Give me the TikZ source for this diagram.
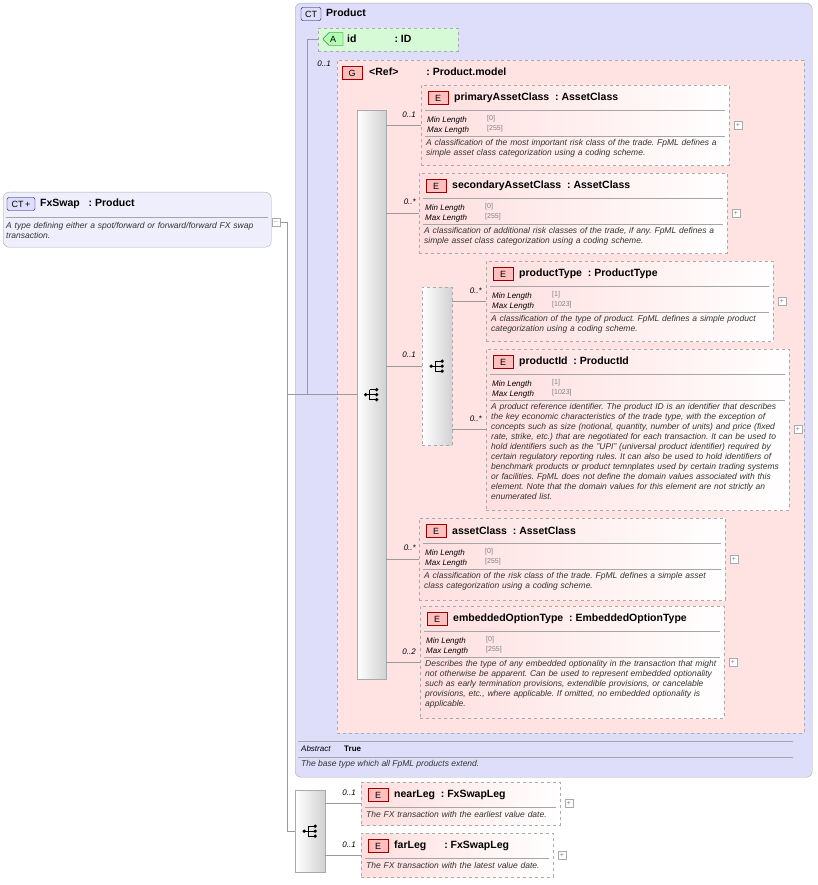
\documentclass[tikz,border=0pt]{standalone}
\usepackage{fontspec}
\setmainfont{Liberation Sans}
\usetikzlibrary{positioning, calc, shapes.misc}

\definecolor{ctfill}{RGB}{222,222,250}
\definecolor{grpfill}{RGB}{255,226,226}
\definecolor{elfill}{RGB}{255,222,222}
\definecolor{attfill}{RGB}{214,250,214}
\definecolor{edge}{RGB}{170,170,170}

\tikzset{
  ctbox/.style={draw=edge, rounded corners=6pt, fill=ctfill, anchor=north west, inner sep=0pt},
  elbox/.style={draw=edge, dashed, left color=elfill, right color=white, anchor=north west, inner sep=0pt},
  grpbox/.style={draw=edge, dashed, fill=grpfill, anchor=north west, inner sep=0pt},
  seqbox/.style={draw=edge, left color=white, right color=black!18, anchor=north west, inner sep=0pt},
  badge/.style={draw=red!60!black, fill=red!25, minimum width=20pt, minimum height=13pt, inner sep=0pt, font=\fontsize{9}{9}\selectfont},
  title/.style={anchor=west, inner sep=0pt, font=\fontsize{10.5}{11}\selectfont\bfseries},
  facet/.style={anchor=west, inner sep=0pt, font=\fontsize{8}{9}\selectfont\itshape},
  fval/.style={anchor=north west, inner sep=0pt, align=left, text=gray, font=\fontsize{7}{10.5}\selectfont},
  desc/.style={anchor=north west, inner sep=0pt, align=left, font=\fontsize{8.5}{10}\selectfont\itshape, text=black!80},
  card/.style={anchor=east, inner sep=0pt, font=\fontsize{8}{9}\selectfont\itshape},
  plusbox/.style={draw=edge, fill=white, minimum size=8pt, inner sep=0pt, font=\fontsize{7}{7}\selectfont, text=gray},
  conn/.style={draw=gray!80, line width=0.6pt}
}

% element box: name, x1, y1, x2, y2, title, facets (min,max or empty), description
\newcommand\xelem[8]{%
  \node[elbox, minimum width={#4-#2}, minimum height={#5-#3}] (#1) at (#2,#3) {};
  \node[badge] (#1-b) at (#2+17,#3+13) {E};
  \node[title] at (#2+33,#3+13) {#6};
  \node[plusbox] at (#4+9,#3/2+#5/2) {+};
  \draw[gray!70] (#2+4,#3+25) -- (#4-4,#3+25);
  \ifx\relax#7\relax
    \node[desc, text width={#4-#2-8}] at (#2+5,#3+29) {#8};
  \else
    \node[facet] at (#2+6,#3+35) {Min Length};
    \node[facet] at (#2+6,#3+45.5) {Max Length};
    \node[fval] at (#2+66,#3+30) {#7};
    \draw[gray!70] (#2+4,#3+51) -- (#4-4,#3+51);
    \node[desc, text width={#4-#2-8}] at (#2+5,#3+54) {#8};
  \fi
}
% sequence icon
\newcommand\seqicon[1]{%
  \fill (#1) ++(-6,0) circle (1.8pt);
  \draw[line width=0.9pt] (#1) ++(-6,0) -- ++(4,0) (#1) ++(-2,-5) -- ++(0,10)
    (#1) ++(-2,-5) -- ++(6,0) (#1) ++(-2,0) -- ++(6,0) (#1) ++(-2,5) -- ++(6,0);
  \foreach \dy in {-5,0,5} \fill (#1) ++(5,\dy) circle (1.8pt);
}

\begin{document}
\hyphenpenalty=10000
\exhyphenpenalty=10000
\frenchspacing
\begin{tikzpicture}[x=1pt, y=-1pt]
  \useasboundingbox (0,0) rectangle (817,885);

  % FxSwap
  \node[ctbox, fill=ctfill!50, minimum width=268, minimum height=55] (fxswap) at (3,192) {};
  \node[draw=blue!40!black, fill=ctfill, rounded corners=2pt, minimum width=28pt, minimum height=13pt, inner sep=0pt, font=\fontsize{9}{9}\selectfont] at (21,204) {CT\,+};
  \node[title] at (40,204) {FxSwap\ \ \ : Product};
  \draw[gray!70] (6,217) -- (268,217);
  \node[desc, text width=262] at (6,222) {A type defining either a spot/forward or forward/forward FX swap transaction.};
  \node[plusbox] (fxminus) at (276,222) {$-$};

  % Product
  \node[ctbox, minimum width=517, minimum height=774] (product) at (295,3) {};
  \node[draw=blue!40!black, fill=ctfill, rounded corners=2pt, minimum width=20pt, minimum height=13pt, inner sep=0pt, font=\fontsize{9}{9}\selectfont] at (311,14) {CT};
  \node[title] at (326,13) {Product};
  \draw[gray!70] (298,741) -- (793,741) (298,757) -- (793,757);
  \node[facet] at (301,749) {Abstract};
  \node[anchor=west, inner sep=0pt, font=\fontsize{8}{9}\selectfont\bfseries] at (344,749) {True};
  \node[desc] at (301,760) {The base type which all FpML products extend.};

  % id attribute
  \node[draw=edge, dashed, fill=attfill, minimum width=140, minimum height=23, anchor=north west, inner sep=0pt] (id) at (318,28) {};
  \node[draw=green!40!black, fill=attfill!60!green!60, chamfered rectangle, chamfered rectangle corners={north west, south west}, minimum width=20pt, minimum height=13pt, inner sep=0pt, font=\fontsize{9}{9}\selectfont] at (333,39) {A};
  \node[title] at (347,39) {id\hspace{38pt}: ID};

  % group
  \node[grpbox, minimum width=467, minimum height=673] (grp) at (337,60) {};
  \node[card] at (331,64) {0..1};
  \node[badge] at (352,73) {G};
  \node[title] at (369,72) {<Ref>\hspace{28pt}: Product.model};

  % sequences
  \node[seqbox, minimum width=29, minimum height=569] (seq) at (357,110) {};
  \node[seqbox, dashed, minimum width=30, minimum height=158] (choice) at (422,287) {};
  \node[seqbox, minimum width=30, minimum height=82] (seqleg) at (295,790) {};
  \seqicon{seq.center}
  \seqicon{choice.center}
  \seqicon{seqleg.center}

  % elements
  \xelem{pac}{421}{85}{729}{165}{primaryAssetClass\ \ : AssetClass}{[0]\\{}[255]}{A classification of the most important risk class of the trade. FpML defines a simple asset class categorization using a coding scheme.}
  \xelem{sac}{419}{173}{727}{253}{secondaryAssetClass\ \ : AssetClass}{[0]\\{}[255]}{A classification of additional risk classes of the trade, if any. FpML defines a simple asset class categorization using a coding scheme.}
  \xelem{ptype}{486}{261}{773}{341}{productType\ \ : ProductType}{[1]\\{}[1023]}{A classification of the type of product. FpML defines a simple product categorization using a coding scheme.}
  \xelem{pid}{486}{349}{789}{510}{productId\ \ : ProductId}{[1]\\{}[1023]}{A product reference identifier. The product ID is an identifier that describes the key economic characteristics of the trade type, with the exception of concepts such as size (notional, quantity, number of units) and price (fixed rate, strike, etc.) that are negotiated for each transaction. It can be used to hold identifiers such as the "UPI" (universal product identifier) required by certain regulatory reporting rules. It can also be used to hold identifiers of benchmark products or product temnplates used by certain trading systems or facilities. FpML does not define the domain values associated with this element. Note that the domain values for this element are not strictly an enumerated list.}
  \xelem{ac}{419}{518}{725}{600}{assetClass\ \ : AssetClass}{[0]\\{}[255]}{A classification of the risk class of the trade. FpML defines a simple asset class categorization using a coding scheme.}
  \xelem{eot}{420}{606}{724}{718}{embeddedOptionType\ \ : EmbeddedOptionType}{[0]\\{}[255]}{Describes the type of any embedded optionality in the transaction that might not otherwise be apparent. Can be used to represent embedded optionality such as early termination provisions, extendible provisions, or cancelable provisions, etc., where applicable. If omitted, no embedded optionality is applicable.}
  \xelem{near}{361}{782}{560}{825}{nearLeg\ \ : FxSwapLeg}{}{The FX transaction with the earliest value date.}
  \xelem{far}{361}{833}{553}{877}{farLeg\hspace{18pt}: FxSwapLeg}{}{The FX transaction with the latest value date.}

  % cardinalities
  \node[card] at (416,115) {0..1};
  \node[card] at (416,202) {0..*};
  \node[card] at (416,355) {0..1};
  \node[card] at (482,291) {0..*};
  \node[card] at (482,419) {0..*};
  \node[card] at (416,548) {0..*};
  \node[card] at (416,652) {0..2};
  \node[card] at (356,793) {0..1};
  \node[card] at (356,845) {0..1};

  % connectors
  \coordinate (trunk) at (287,222);
  \draw[conn] (fxminus.east) -- (trunk) -- (trunk |- seqleg.west) -- (seqleg.west);
  \draw[conn] (trunk |- seq.west) -- (seq.west);
  \draw[conn] ($(id.west)+(-11,0)$) coordinate (idl) -- (id.west);
  \draw[conn] (idl) -- (idl |- seq.west);
  \foreach \el in {pac, sac, ac, eot}
    \draw[conn] (\el.west) -- (\el.west -| seq.east);
  \draw[conn] (choice.west) -- (choice.west -| seq.east);
  \foreach \el in {ptype, pid}
    \draw[conn] (\el.west) -- (\el.west -| choice.east);
  \foreach \el in {near, far}
    \draw[conn] (\el.west) -- (\el.west -| seqleg.east);
\end{tikzpicture}
\end{document}
